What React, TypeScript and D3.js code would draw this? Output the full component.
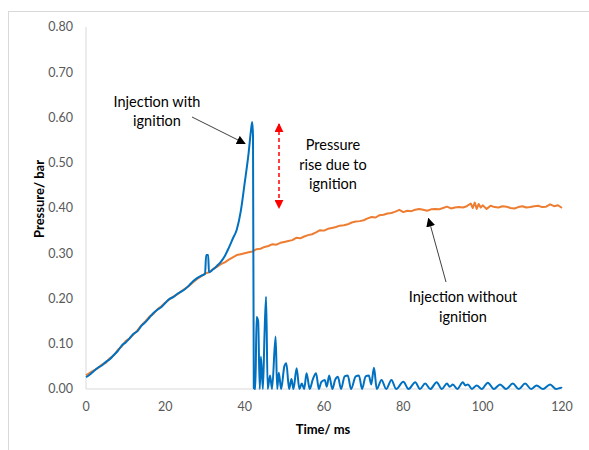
import * as d3 from "d3";

// [time ms, pressure bar]
const withoutIgnition: [number, number][] = [
  [0, 0.03], [1, 0.036], [2, 0.041], [3, 0.046], [4, 0.054], [5, 0.058], [6, 0.068], [7, 0.074],
  [8, 0.086], [9, 0.094], [10, 0.106], [11, 0.112], [12, 0.121], [13, 0.13], [14, 0.141], [15, 0.15],
  [16, 0.16], [17, 0.166], [18, 0.176], [19, 0.183], [20, 0.191], [21, 0.198], [22, 0.204], [23, 0.209],
  [24, 0.216], [25, 0.222], [26, 0.228], [27, 0.236], [28, 0.243], [29, 0.249], [30, 0.255], [31, 0.258],
  [32, 0.265], [33, 0.27], [34, 0.276], [35, 0.28], [36, 0.286], [37, 0.291], [38, 0.296], [39, 0.298],
  [40, 0.3], [41, 0.302], [42, 0.304], [43, 0.309], [44, 0.31], [45, 0.314], [46, 0.316], [47, 0.32],
  [48, 0.319], [49, 0.323], [50, 0.325], [51, 0.327], [52, 0.329], [53, 0.334], [54, 0.333], [55, 0.337],
  [56, 0.34], [57, 0.342], [58, 0.346], [59, 0.351], [60, 0.35], [61, 0.354], [62, 0.356], [63, 0.358],
  [64, 0.361], [65, 0.362], [66, 0.364], [67, 0.368], [68, 0.37], [69, 0.371], [70, 0.373], [71, 0.377],
  [72, 0.38], [73, 0.379], [74, 0.384], [75, 0.385], [76, 0.388], [77, 0.389], [78, 0.392], [79, 0.396],
  [80, 0.391], [81, 0.394], [82, 0.393], [83, 0.396], [84, 0.398], [85, 0.396], [86, 0.394], [87, 0.397],
  [88, 0.398], [89, 0.397], [90, 0.4], [91, 0.403], [92, 0.399], [93, 0.401], [94, 0.402], [95, 0.401],
  [96, 0.404], [97, 0.41], [97.5, 0.4], [98, 0.412], [98.5, 0.398], [99, 0.409], [99.5, 0.401], [100, 0.406],
  [101, 0.398], [102, 0.405], [103, 0.402], [104, 0.401], [105, 0.404], [106, 0.403], [107, 0.4],
  [108, 0.399], [109, 0.402], [110, 0.404], [111, 0.401], [112, 0.402], [113, 0.404], [114, 0.405],
  [115, 0.402], [116, 0.403], [117, 0.408], [118, 0.404], [119, 0.406], [120, 0.4],
];

const withIgnition: [number, number][] = [
  [0, 0.026], [1, 0.032], [2, 0.04], [3, 0.047], [4, 0.052], [5, 0.06], [6, 0.066], [7, 0.075],
  [8, 0.084], [9, 0.096], [10, 0.103], [11, 0.112], [12, 0.122], [13, 0.128], [14, 0.14], [15, 0.148],
  [16, 0.158], [17, 0.168], [18, 0.175], [19, 0.181], [20, 0.19], [21, 0.199], [22, 0.203], [23, 0.21],
  [24, 0.215], [25, 0.221], [26, 0.229], [27, 0.238], [28, 0.245], [29, 0.25], [30, 0.254], [30.3, 0.296],
  [30.8, 0.296], [31, 0.258], [32, 0.264], [33, 0.272], [34, 0.281], [35, 0.294], [36, 0.312], [37, 0.332],
  [38, 0.352], [39, 0.392], [40, 0.455], [41, 0.522], [41.6, 0.572], [41.9, 0.59], [42.1, 0.56],
  [42.3, 0.002], [42.7, 0], [43, 0.159], [43.4, 0.15], [43.8, 0], [44.1, 0.071], [44.6, 0], [45, 0.12],
  [45.4, 0.204], [45.8, 0], [46.4, 0.03], [46.9, 0], [47.8, 0.116], [48.2, 0], [48.6, 0.036], [49.2, 0],
  [50, 0.05], [50.5, 0.057], [51.2, 0], [51.8, 0.022], [52.3, 0], [53.1, 0.046], [53.8, 0], [54.4, 0.012],
  [55, 0], [55.6, 0.035], [56.4, 0], [57.2, 0.022], [58, 0.035], [58.7, 0], [59.3, 0.015], [60.2, 0.02],
  [60.7, 0.005], [61.3, 0.03], [62.1, 0], [62.8, 0.02], [63.5, 0.027], [64.3, 0], [65.2, 0.028], [66, 0.03],
  [66.8, 0], [68, 0.028], [68.8, 0.03], [69.6, 0], [70.5, 0.028], [71.3, 0.03], [71.9, 0.01], [72.6, 0.047],
  [73.3, 0], [74.5, 0.02], [75.7, 0], [77, 0.02], [78.2, 0], [80, 0.016], [81.3, 0], [83, 0.015], [84.2, 0],
  [85.5, 0.012], [86.8, 0], [88.4, 0.015], [89.7, 0], [91, 0.012], [91.7, 0.005], [92.5, 0.01], [93.6, 0],
  [95, 0.015], [95.6, 0.008], [96.3, 0.01], [97.3, 0], [98.5, 0.008], [99.8, 0], [101.3, 0.014], [102.8, 0],
  [104.4, 0.01], [105.9, 0], [107.6, 0.012], [109.1, 0], [110.7, 0.012], [112.2, 0], [113.6, 0.008],
  [115.2, 0], [117, 0.01], [118.5, 0], [119.8, 0.003], [120, 0.002],
];

const xTicks = [0, 20, 40, 60, 80, 100, 120];
const yTicks = [0, 0.1, 0.2, 0.3, 0.4, 0.5, 0.6, 0.7, 0.8];

const labelWith = ["Injection with", "ignition"];
const labelRise = ["Pressure", "rise due to", "ignition"];
const labelWithout = ["Injection without", "ignition"];

const W = 589;
const H = 450;
const font = "Lato, 'Open Sans', sans-serif";

export default function App() {
  const x = d3.scaleLinear().domain([0, 120]).range([86, 562]);
  const y = d3.scaleLinear().domain([0, 0.8]).range([389, 27]);

  const lineLin = d3.line<[number, number]>().x((d) => x(d[0])).y((d) => y(d[1]));
  const lineSmooth = d3
    .line<[number, number]>()
    .x((d) => x(d[0]))
    .y((d) => y(d[1]))
    .curve(d3.curveMonotoneX);

  return (
    <svg
      width={W}
      height={H}
      viewBox={`0 0 ${W} ${H}`}
      style={{ position: "absolute", left: 0, top: 0, background: "#fff" }}
    >
      <defs>
        <marker id="blackHead" viewBox="0 0 10 10" refX="9" refY="5" markerWidth="9" markerHeight="9" orient="auto-start-reverse" markerUnits="userSpaceOnUse">
          <path d="M0,0 L10,5 L0,10 z" fill="#000" />
        </marker>
        <marker id="redHead" viewBox="0 0 10 10" refX="9" refY="5" markerWidth="9" markerHeight="9" orient="auto-start-reverse" markerUnits="userSpaceOnUse">
          <path d="M0,0 L10,5 L0,10 z" fill="#ff0000" />
        </marker>
      </defs>

      <rect x={8.5} y={11.5} width={620} height={480} fill="#fff" stroke="#d9d9d9" />

      {/* axes */}
      <line x1={x(0)} x2={x(0)} y1={y(0.8)} y2={y(0)} stroke="#d9d9d9" />
      <line x1={x(0)} x2={x(120)} y1={y(0)} y2={y(0)} stroke="#d9d9d9" />

      {yTicks.map((t) => (
        <text key={t} x={73} y={y(t)} dy="0.35em" textAnchor="end" fontFamily={font} fontSize={12.5} fill="#595959">
          {t.toFixed(2)}
        </text>
      ))}
      {xTicks.map((t) => (
        <text key={t} x={x(t)} y={407} dy="0.35em" textAnchor="middle" fontFamily={font} fontSize={12.5} fill="#595959">
          {t}
        </text>
      ))}

      <text transform="translate(39,199) rotate(-90)" textAnchor="middle" dy="0.35em" fontFamily={font} fontSize={13} fontWeight="bold" fill="#000">
        Pressure/ bar
      </text>
      <text x={323} y={429} textAnchor="middle" dy="0.35em" fontFamily={font} fontSize={13} fontWeight="bold" fill="#000">
        Time/ ms
      </text>

      {/* series */}
      <path d={lineLin(withoutIgnition) ?? ""} fill="none" stroke="#ed7d31" strokeWidth={2} strokeLinejoin="round" />
      <path d={lineSmooth(withIgnition) ?? ""} fill="none" stroke="#0070c0" strokeWidth={2} strokeLinejoin="round" />

      {/* annotations */}
      {labelWith.map((s, i) => (
        <text key={s} x={157} y={102 + i * 19} dy="0.35em" textAnchor="middle" fontFamily={font} fontSize={14.5} fill="#000">
          {s}
        </text>
      ))}
      <line x1={192} y1={117} x2={245} y2={143.5} stroke="#404040" strokeWidth={1} markerEnd="url(#blackHead)" />

      <line x1={279} y1={124} x2={279} y2={208} stroke="#ff0000" strokeWidth={1.5} strokeDasharray="4 3" markerStart="url(#redHead)" markerEnd="url(#redHead)" />
      {labelRise.map((s, i) => (
        <text key={s} x={333} y={145 + i * 19.5} dy="0.35em" textAnchor="middle" fontFamily={font} fontSize={14.5} fill="#000">
          {s}
        </text>
      ))}

      {labelWithout.map((s, i) => (
        <text key={s} x={463} y={297 + i * 19.5} dy="0.35em" textAnchor="middle" fontFamily={font} fontSize={14.5} fill="#000">
          {s}
        </text>
      ))}
      <line x1={446} y1={282} x2={428.5} y2={218.5} stroke="#404040" strokeWidth={1} markerEnd="url(#blackHead)" />
    </svg>
  );
}
